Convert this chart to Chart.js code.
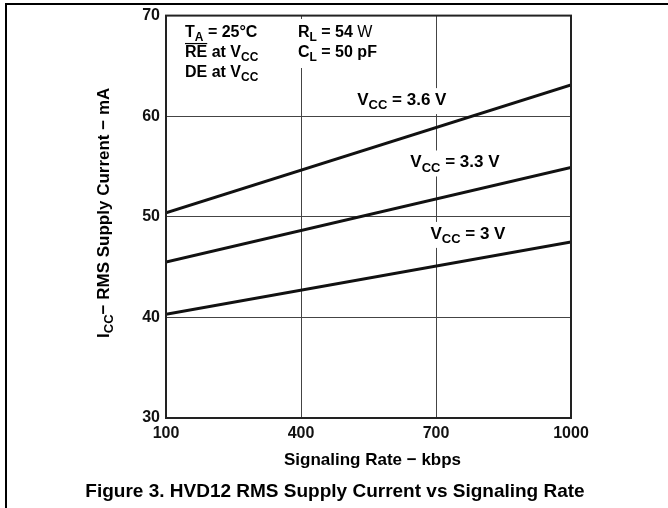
<!DOCTYPE html>
<html>
<head>
<meta charset="utf-8">
<script src="https://cdn.jsdelivr.net/npm/chart.js@4.4.1/dist/chart.umd.min.js"></script>
<style>
  html, body { margin: 0; padding: 0; background: #fff; }
  canvas { display: block; }
</style>
</head>
<body>
<canvas id="chart" width="668" height="508"></canvas>
<script>
// values (signaling rate in kbps, current in mA)
const rates = [100, 1000];
const vcc36 = [50.4, 63.1];
const vcc33 = [45.5, 54.9];
const vcc30 = [40.3, 47.5];
const xTicks = [100, 400, 700, 1000];
const yTicks = [30, 40, 50, 60, 70];
const vccNames = ['3.6 V', '3.3 V', '3 V'];

const FONT = 'Arial, "Liberation Sans", sans-serif';

function pts(vals) {
  return rates.map((r, i) => ({ x: r, y: vals[i] }));
}

// pieces: {t, sub, normal, over}
function richWidth(ctx, parts, size) {
  let w = 0;
  parts.forEach(p => {
    const s = p.sub ? Math.round(size * 0.75) : size;
    ctx.font = (p.normal ? '' : 'bold ') + s + 'px ' + FONT;
    w += ctx.measureText(p.t).width;
  });
  return w;
}
function drawRich(ctx, parts, x, y, size) {
  let cx = x;
  parts.forEach(p => {
    const s = p.sub ? Math.round(size * 0.75) : size;
    ctx.font = (p.normal ? '' : 'bold ') + s + 'px ' + FONT;
    ctx.fillText(p.t, cx, y + (p.sub ? size * 0.25 : 0));
    const w = ctx.measureText(p.t).width;
    if (p.over) {
      ctx.lineWidth = 1.2;
      ctx.beginPath();
      ctx.moveTo(cx, y - size * 0.84);
      ctx.lineTo(cx + w, y - size * 0.84);
      ctx.stroke();
    }
    cx += w;
  });
  return cx - x;
}

const notes = {
  id: 'notes',
  beforeDatasetsDraw(chart) {
    const { ctx, scales: { x, y } } = chart;
    ctx.save();
    ctx.fillStyle = '#000';
    ctx.strokeStyle = '#000';
    ctx.textAlign = 'left';
    ctx.textBaseline = 'alphabetic';
    const size = 16;

    // condition block, white boxes cut the grid like in the print
    ctx.fillStyle = '#fff';
    ctx.fillRect(180, 20, 100, 62);
    ctx.fillRect(292, 19, 100, 49);
    ctx.fillStyle = '#000';
    drawRich(ctx, [{ t: 'T' }, { t: 'A', sub: true }, { t: ' = 25°C' }], 185, 37, size);
    drawRich(ctx, [{ t: 'RE', over: true }, { t: ' at V' }, { t: 'CC', sub: true }], 185, 57, size);
    drawRich(ctx, [{ t: 'DE at V' }, { t: 'CC', sub: true }], 185, 77, size);
    drawRich(ctx, [{ t: 'R' }, { t: 'L', sub: true }, { t: ' = 54 ' }, { t: 'W', normal: true }], 298, 37, size);
    drawRich(ctx, [{ t: 'C' }, { t: 'L', sub: true }, { t: ' = 50 pF' }], 298, 57, size);

    // curve labels, placed in data units
    const spots = [[624, 61.6], [742, 55.4], [771, 48.3]];
    vccNames.forEach((name, i) => {
      const parts = [{ t: 'V' }, { t: 'CC', sub: true }, { t: ' = ' + name }];
      const w = richWidth(ctx, parts, 17);
      const cx = x.getPixelForValue(spots[i][0]);
      const cy = y.getPixelForValue(spots[i][1]);
      ctx.fillStyle = '#fff';
      ctx.fillRect(cx - w / 2 - 4, cy - 12, w + 8, 26);
      ctx.fillStyle = '#000';
      drawRich(ctx, parts, cx - w / 2, cy + 5, 17);
    });
    ctx.restore();
  },
  afterDraw(chart) {
    const { ctx, chartArea: a } = chart;
    ctx.save();
    // plot frame
    ctx.strokeStyle = '#222';
    ctx.lineWidth = 2;
    ctx.strokeRect(a.left, a.top, a.right - a.left, a.bottom - a.top);

    // page frame (table cell edges)
    ctx.strokeStyle = '#000';
    ctx.beginPath();
    ctx.moveTo(6, 508);
    ctx.lineTo(6, 4);
    ctx.lineTo(668, 4);
    ctx.stroke();

    ctx.fillStyle = '#000';
    // y title
    const yParts = [{ t: 'I' }, { t: 'CC', sub: true }, { t: '− RMS Supply Current − mA' }];
    ctx.translate(104, (a.top + a.bottom) / 2 - 4);
    ctx.rotate(-Math.PI / 2);
    const yw = richWidth(ctx, yParts, 17);
    ctx.textAlign = 'left';
    drawRich(ctx, yParts, -yw / 2, 5, 17);
    ctx.setTransform(1, 0, 0, 1, 0, 0);

    // x title and caption
    ctx.textAlign = 'center';
    ctx.textBaseline = 'alphabetic';
    ctx.font = 'bold 17px ' + FONT;
    ctx.fillText('Signaling Rate − kbps', (a.left + a.right) / 2 + 4, 465);
    ctx.font = 'bold 19px ' + FONT;
    ctx.fillText('Figure 3. HVD12 RMS Supply Current vs Signaling Rate', 335, 497);
    ctx.restore();
  }
};

const line = (vals) => ({
  data: pts(vals),
  borderColor: '#111',
  borderWidth: 3,
  pointRadius: 0,
  fill: false,
  tension: 0
});

new Chart(document.getElementById('chart'), {
  type: 'line',
  data: {
    datasets: [line(vcc36), line(vcc33), line(vcc30)]
  },
  options: {
    responsive: false,
    animation: false,
    layout: { padding: { left: 0, top: 13, right: 97, bottom: 0 } },
    plugins: { legend: { display: false }, tooltip: { enabled: false } },
    scales: {
      x: {
        type: 'linear',
        min: 100,
        max: 1000,
        afterBuildTicks: s => { s.ticks = xTicks.map(v => ({ value: v })); },
        afterFit: s => { s.height = 90; },
        grid: { color: '#444', lineWidth: 1, drawTicks: false },
        border: { display: false },
        ticks: {
          padding: 6, color: '#111', maxRotation: 0,
          font: { family: FONT, size: 16, weight: 'bold' },
          callback: v => String(v)
        }
      },
      y: {
        min: 30,
        max: 70,
        afterBuildTicks: s => { s.ticks = yTicks.map(v => ({ value: v })); },
        afterFit: s => { s.width = 166; },
        grid: { color: '#444', lineWidth: 1, drawTicks: false },
        border: { display: false },
        ticks: {
          padding: 6, color: '#111',
          font: { family: FONT, size: 16, weight: 'bold' },
          callback: v => String(v)
        }
      }
    }
  },
  plugins: [notes]
});
</script>
</body>
</html>
